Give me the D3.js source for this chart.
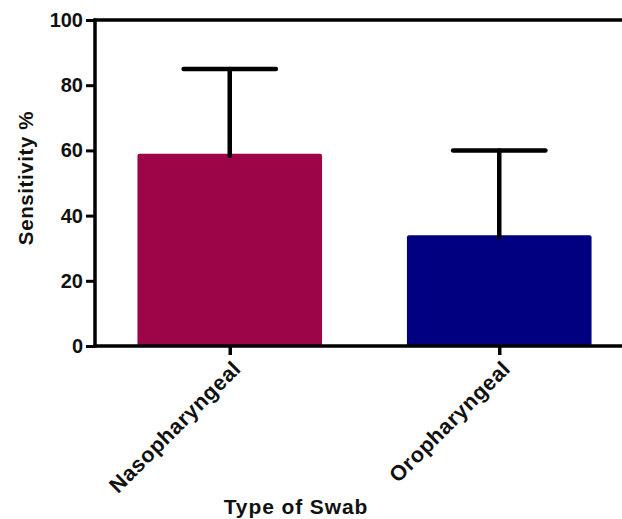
<!DOCTYPE html>
<html>
<head>
<meta charset="utf-8">
<script src="https://cdn.jsdelivr.net/npm/d3@7"></script>
<style>
  html, body { margin: 0; padding: 0; background: #fff; }
  svg { display: block; }
  text { font-family: "Liberation Sans", Arial, sans-serif; font-weight: bold; fill: #111; }
</style>
</head>
<body>
<svg id="chart" width="622" height="519"></svg>
<script>
const categories = ["Nasopharyngeal", "Oropharyngeal"];
const means = [59, 34];
const errUpper = [85, 60];
const colors = ["#9d0549", "#000080"];
const yTicks = [0, 20, 40, 60, 80, 100];
const yTitle = "Sensitivity %";
const xTitle = "Type of Swab";

(function () {
const W = 622, H = 519;
const mLeft = 95, mTop = 20, mBottom = 346, mRight = 634;

const svg = d3.select("#chart");

const y = d3.scaleLinear().domain([0, 100]).range([mBottom, mTop]);
const x = d3.scalePoint().domain(categories).range([mLeft, mRight]).padding(0.5);
const step = x.step();
const barW = step * 0.685;
const capW = barW * 0.5;

// bars
svg.selectAll("rect.bar").data(categories).enter().append("rect")
  .attr("class", "bar")
  .attr("x", d => x(d) - barW / 2)
  .attr("y", (d, i) => y(means[i]))
  .attr("width", barW)
  .attr("height", (d, i) => y(0) - y(means[i]))
  .attr("rx", 2)
  .attr("fill", (d, i) => colors[i]);

// error bars
const eb = svg.append("g").attr("stroke", "#000").attr("stroke-width", 4.5).attr("stroke-linecap", "round");
categories.forEach((c, i) => {
  eb.append("line").attr("x1", x(c)).attr("x2", x(c)).attr("y1", y(means[i]) + 2).attr("y2", y(errUpper[i]));
  eb.append("line").attr("x1", x(c) - capW / 2).attr("x2", x(c) + capW / 2).attr("y1", y(errUpper[i])).attr("y2", y(errUpper[i]));
});

// y axis
const yAxis = svg.append("g").attr("transform", `translate(${mLeft},0)`)
  .call(d3.axisLeft(y).tickValues(yTicks).tickSize(9).tickPadding(3).tickFormat(d3.format("d")));
yAxis.select(".domain").remove();
yAxis.selectAll(".tick line").attr("stroke", "#000").attr("stroke-width", 3);
yAxis.selectAll(".tick text").attr("font-size", 20).attr("font-family", "Liberation Sans, Arial, sans-serif").attr("font-weight", "bold").attr("fill", "#111");

// frame lines: left axis, bottom axis, top line
svg.append("line").attr("x1", mLeft).attr("x2", mLeft).attr("y1", mTop - 1.5).attr("y2", mBottom + 1.5).attr("stroke", "#000").attr("stroke-width", 3.5);
svg.append("line").attr("x1", mLeft - 1.5).attr("x2", W).attr("y1", mBottom).attr("y2", mBottom).attr("stroke", "#000").attr("stroke-width", 3.5);
svg.append("line").attr("x1", mLeft - 1.5).attr("x2", W).attr("y1", mTop).attr("y2", mTop).attr("stroke", "#000").attr("stroke-width", 3.5);

// x axis ticks and labels
const xAxis = svg.append("g").attr("transform", `translate(0,${mBottom})`)
  .call(d3.axisBottom(x).tickSize(9).tickPadding(0));
xAxis.select(".domain").remove();
xAxis.selectAll(".tick line").attr("stroke", "#000").attr("stroke-width", 3.5);
xAxis.selectAll(".tick text")
  .attr("font-size", 21.5).attr("font-family", "Liberation Sans, Arial, sans-serif").attr("font-weight", "bold").attr("fill", "#111")
  .attr("letter-spacing", 0.6)
  .attr("text-anchor", "end")
  .attr("x", 0).attr("y", 0).attr("dy", null)
  .attr("transform", "translate(12,24) rotate(-45)");

// axis titles
svg.append("text").attr("x", 296).attr("y", 514).attr("text-anchor", "middle")
  .attr("font-size", 21).attr("letter-spacing", 0.9).text(xTitle);
svg.append("text").attr("transform", "translate(33,178) rotate(-90)").attr("text-anchor", "middle")
  .attr("font-size", 20.5).attr("letter-spacing", 0.6).text(yTitle);
})();
</script>
</body>
</html>
